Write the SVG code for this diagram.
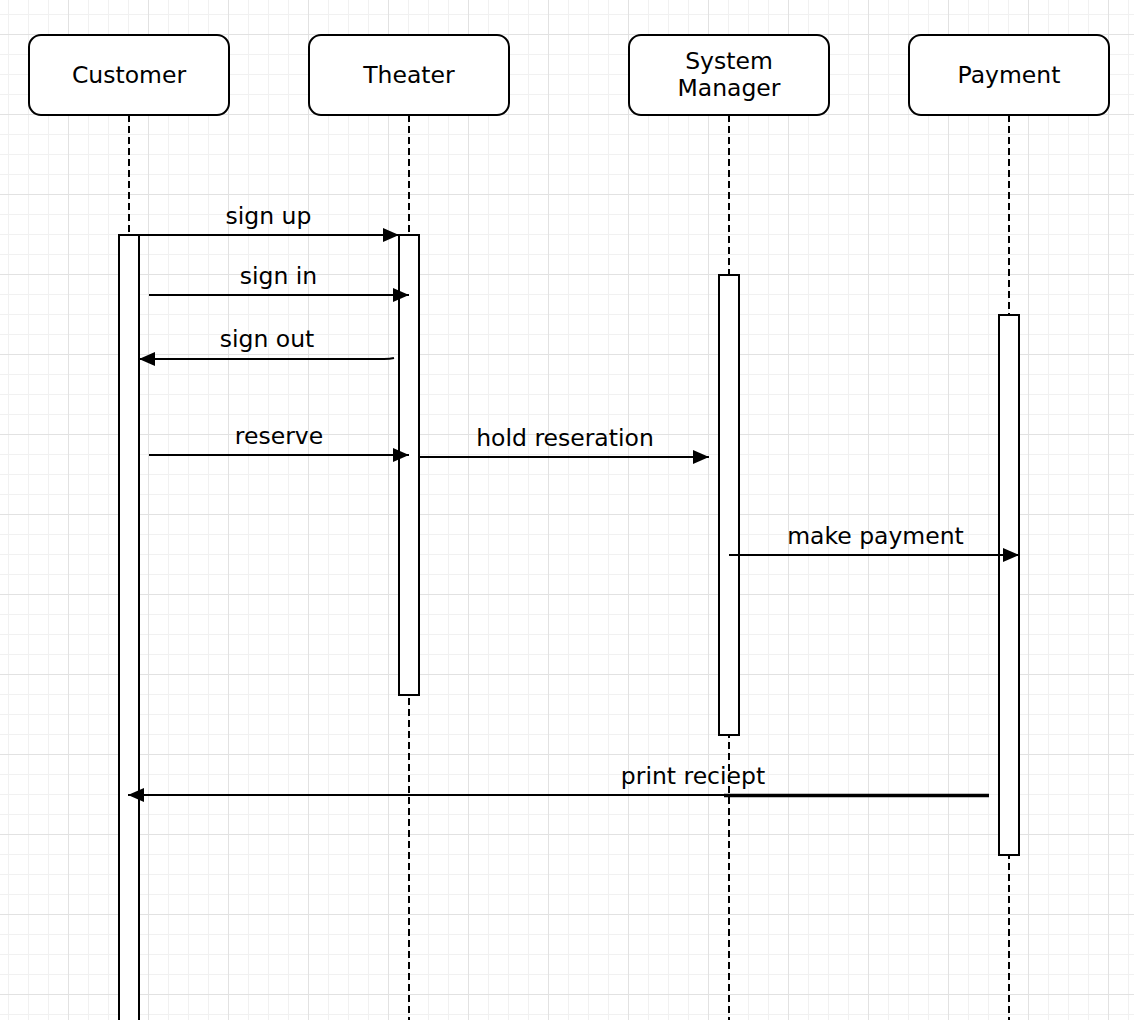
<svg xmlns="http://www.w3.org/2000/svg" width="1134" height="1020" viewBox="0 0 1134 1020">
<style>
.box{fill:#fff;stroke:#000;stroke-width:2}
.act{fill:#fff;stroke:#000;stroke-width:2}
.life{stroke:#000;stroke-width:2;stroke-dasharray:7 4;fill:none}
.msg{stroke:#000;stroke-width:2;fill:none}
text{font-family:"DejaVu Sans","Verdana",sans-serif;font-size:23.5px;fill:#000;text-anchor:middle}
</style>
<defs>
<pattern id="grid" x="68" y="34" width="80" height="80" patternUnits="userSpaceOnUse">
<rect x="0" y="0" width="80" height="80" fill="#fff"/>
<rect x="20" y="0" width="1" height="80" fill="#f1f1f1"/>
<rect x="40" y="0" width="1" height="80" fill="#f1f1f1"/>
<rect x="60" y="0" width="1" height="80" fill="#f1f1f1"/>
<rect x="0" y="20" width="80" height="1" fill="#f1f1f1"/>
<rect x="0" y="40" width="80" height="1" fill="#f1f1f1"/>
<rect x="0" y="60" width="80" height="1" fill="#f1f1f1"/>
<rect x="0" y="0" width="1" height="80" fill="#e2e2e2"/>
<rect x="0" y="0" width="80" height="1" fill="#e2e2e2"/>
</pattern>
<marker id="arr" markerWidth="16" markerHeight="14" refX="16" refY="7" orient="auto" markerUnits="userSpaceOnUse">
<path d="M0,0 L16,7 L0,14 Z" fill="#000"/>
</marker>
</defs>
<rect x="0" y="0" width="1134" height="1020" fill="url(#grid)"/>

<g id="customer">
<line class="life" x1="129" y1="115" x2="129" y2="1020"/>
<rect class="box" x="29" y="35" width="200" height="80" rx="12"/>
<text x="129" y="83">Customer</text>
<rect class="act" x="119" y="235" width="20" height="800"/>
</g>
<g id="theater">
<line class="life" x1="409" y1="115" x2="409" y2="1020"/>
<rect class="box" x="309" y="35" width="200" height="80" rx="12"/>
<text x="409" y="83">Theater</text>
<rect class="act" x="399" y="235" width="20" height="460"/>
</g>
<g id="system-manager">
<line class="life" x1="729" y1="115" x2="729" y2="1020"/>
<rect class="box" x="629" y="35" width="200" height="80" rx="12"/>
<text x="729" y="69">System</text>
<text x="729" y="96">Manager</text>
<rect class="act" x="719" y="275" width="20" height="460"/>
</g>
<g id="payment">
<line class="life" x1="1009" y1="115" x2="1009" y2="1020"/>
<rect class="box" x="909" y="35" width="200" height="80" rx="12"/>
<text x="1009" y="83">Payment</text>
<rect class="act" x="999" y="315" width="20" height="540"/>
</g>

<g id="connectors">
<line class="msg" x1="129" y1="235" x2="399" y2="235" marker-end="url(#arr)"/>
<text x="268.5" y="224">sign up</text>
<line class="msg" x1="149" y1="295" x2="409" y2="295" marker-end="url(#arr)"/>
<text x="278.5" y="284">sign in</text>
<path class="msg" d="M394,358 Q390,359 384,359 L139,359" marker-end="url(#arr)"/>
<text x="267" y="347">sign out</text>
<line class="msg" x1="149" y1="455" x2="409" y2="455" marker-end="url(#arr)"/>
<text x="279" y="444">reserve</text>
<line class="msg" x1="419" y1="457" x2="709" y2="457" marker-end="url(#arr)"/>
<text x="565" y="446">hold reseration</text>
<line class="msg" x1="729" y1="555" x2="1019" y2="555" marker-end="url(#arr)"/>
<text x="875.5" y="544">make payment</text>
<line class="msg" x1="989" y1="795" x2="128" y2="795" marker-end="url(#arr)"/>
<line x1="724" y1="795.5" x2="989" y2="795.5" stroke="#000" stroke-width="3.5"/>
<text x="693" y="784">print reciept</text>
</g>
</svg>
